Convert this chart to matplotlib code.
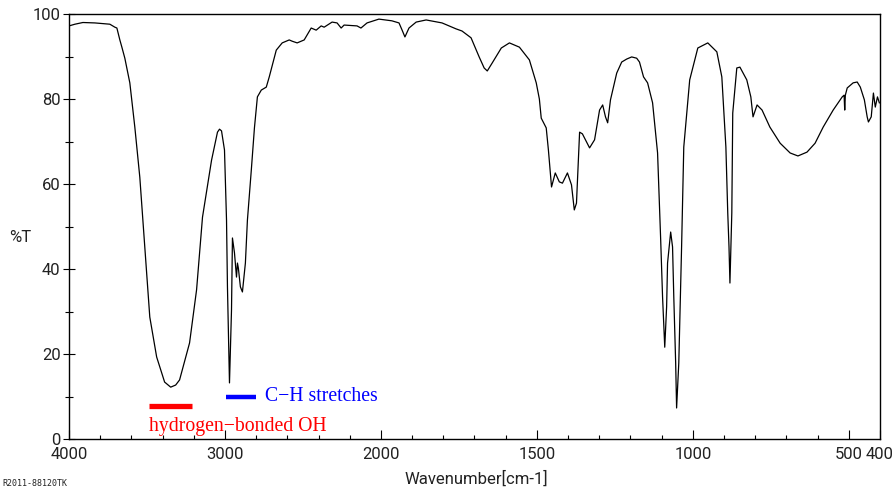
import numpy as np
import matplotlib
matplotlib.use("Agg")
import matplotlib.pyplot as plt
from matplotlib.scale import FuncScale
from matplotlib.ticker import FixedLocator

# --- spectrum data (wavenumber cm-1, %T) ---
wavenumber = [
    4000, 3962, 3911, 3834, 3738, 3706, 3693, 3674, 3661, 3642, 3610, 3578,
    3546, 3514, 3482, 3438, 3387, 3348, 3316, 3291, 3227, 3182, 3144, 3086,
    3048, 3035, 3022, 3003, 2990, 2984, 2971, 2958, 2952, 2939, 2926, 2920,
    2914, 2901, 2888, 2869, 2856, 2831, 2811, 2792, 2767, 2735, 2716, 2671,
    2633, 2588, 2569, 2537, 2492, 2447, 2415, 2383, 2364, 2313, 2281, 2255,
    2236, 2153, 2128, 2089, 2013,
    1965, 1942, 1932, 1923, 1910, 1887, 1855, 1804, 1759, 1740, 1711, 1685,
    1669, 1659, 1643, 1614, 1588, 1556, 1524, 1502, 1492, 1486, 1470, 1463,
    1453, 1441, 1428, 1418, 1402, 1389, 1380, 1373, 1363, 1354, 1331, 1315,
    1299, 1289, 1280, 1273, 1264, 1244, 1228, 1212, 1196, 1180, 1171, 1158,
    1145, 1129, 1113, 1103, 1097, 1090, 1084, 1081, 1071, 1065, 1061, 1055,
    1052, 1045, 1036, 1029, 1010, 984, 952, 923, 907, 894, 888, 884, 881,
    875, 872, 859, 849, 827, 814, 807, 794, 778, 753, 720, 688, 663, 634,
    608, 582, 550, 521, 515, 513, 511, 505, 486, 473, 463, 450, 441, 437,
    428, 421, 415, 408, 402,
]
transmittance = [
    97.2, 97.6, 98.0, 97.9, 97.6, 96.9, 96.7, 93.9, 92.2, 89.6, 83.8, 73.4,
    61.6, 45.2, 28.7, 19.3, 13.4, 12.2, 12.7, 13.9, 22.6, 35.1, 52.2, 65.6,
    72.2, 72.9, 72.5, 68.0, 51.5, 35.8, 13.2, 30.4, 47.3, 43.8, 38.1, 41.4,
    40.2, 35.8, 34.6, 41.4, 51.5, 63.3, 73.2, 80.5, 82.1, 82.8, 85.2, 91.5,
    93.2, 93.9, 93.6, 93.2, 93.9, 96.7, 96.2, 97.2, 96.9, 98.1, 97.9, 96.7,
    97.4, 97.2, 96.7, 97.9, 98.8,
    98.4, 97.9, 96.2, 94.6, 96.7, 98.1, 98.6, 97.9, 96.5, 96.0, 94.4, 89.9,
    87.3, 86.6, 88.5, 92.0, 93.2, 92.2, 89.2, 83.8, 80.0, 75.5, 73.2, 68.0,
    59.3, 62.6, 60.5, 60.2, 62.6, 59.8, 53.9, 55.5, 72.2, 71.8, 68.5, 70.4,
    77.4, 78.6, 75.8, 74.4, 79.8, 86.1, 88.7, 89.4, 89.9, 89.6, 88.7, 85.2,
    83.8, 79.1, 67.3, 46.8, 33.4, 21.6, 31.1, 41.4, 48.7, 45.2, 33.4, 17.9,
    7.3, 17.9, 45.2, 68.7, 84.5, 92.0, 93.2, 91.1, 85.2, 68.7, 53.2, 45.2, 36.7,
    53.2, 76.7, 87.3, 87.5, 84.5, 80.5, 75.8, 78.6, 77.4, 73.4, 69.6, 67.3, 66.6, 67.5,
    69.6, 73.4, 77.4, 80.5, 80.9, 77.4, 80.9, 82.6, 83.8, 84.0, 82.8, 79.8, 75.8, 74.6,
    75.8, 81.4, 78.1, 80.5, 79.1,
]

major_x = [4000, 3000, 2000, 1500, 1000, 500, 400]
major_x_labels = ["4000", "3000", "2000", "1500", "1000", "500", "400"]
minor_x = [3800, 3600, 3400, 3200, 2800, 2600, 2400, 2200,
           1900, 1800, 1700, 1600, 1400, 1300, 1200, 1100,
           900, 800, 700, 600]
major_y = [0, 20, 40, 60, 80, 100]
minor_y = [10, 30, 50, 70, 90]

# band markers: x from, x to, %T
oh_band = (3490, 3210, 7.8)
ch_band = (2995, 2800, 9.9)


# spectrometer style axis: below 2000 cm-1 the scale is doubled
def fwd(w):
    w = np.asarray(w, dtype=float)
    return np.where(w >= 2000, w, 2 * w - 2000)


def inv(u):
    u = np.asarray(u, dtype=float)
    return np.where(u >= 2000, u, (u + 2000) / 2)


tick_font = ["Roboto", "DejaVu Sans"]
serif_font = ["Liberation Serif", "DejaVu Serif"]

fig = plt.figure(figsize=(8.95, 4.88), dpi=100)
ax = fig.add_axes([0.0771, 0.1004, 0.9061, 0.8709])
ax.set_xscale(FuncScale(ax.xaxis, (fwd, inv)))

ax.plot(wavenumber, transmittance, color="black", lw=0.9)

ax.set_xlim(4000, 400)
ax.set_ylim(0, 100)

ax.set_xticks(major_x, major_x_labels)
ax.xaxis.set_minor_locator(FixedLocator(minor_x))
ax.set_yticks(major_y)
ax.yaxis.set_minor_locator(FixedLocator(minor_y))

ax.tick_params(axis="x", which="major", direction="in", length=6.5, width=0.8, pad=6)
ax.tick_params(axis="x", which="minor", direction="in", length=3, width=0.8)
ax.tick_params(axis="y", which="major", direction="inout", length=8, width=0.8, pad=2)
ax.tick_params(axis="y", which="minor", direction="inout", length=5.5, width=0.8)
for lab in ax.get_xticklabels() + ax.get_yticklabels():
    lab.set_family(tick_font)
    lab.set_fontsize(12)
    lab.set_color("#222222")

for sp in ax.spines.values():
    sp.set_linewidth(1.0)

# band annotations
ax.plot(oh_band[:2], [oh_band[2]] * 2, color="red", lw=3.8, solid_capstyle="butt")
ax.text(oh_band[0], 3.0, "hydrogen\u2212bonded OH", color="red",
        family=serif_font, fontsize=14.2, va="center", ha="left")
ax.plot(ch_band[:2], [ch_band[2]] * 2, color="blue", lw=3.2, solid_capstyle="butt")
ax.text(2745, 9.9, "C\u2212H stretches", color="blue",
        family=serif_font, fontsize=14.2, va="center", ha="left")

fig.text(20 / 895, 1 - 238 / 488, "%T", family=tick_font, fontsize=12,
         ha="center", va="center", color="#222222")
fig.text(476 / 895, 1 - 479 / 488, "Wavenumber[cm-1]", family=tick_font, fontsize=12,
         ha="center", va="center", color="#222222")
fig.text(2 / 895, 1 - 483 / 488, "R2011-88120TK", family="DejaVu Sans Mono",
         fontsize=6, ha="left", va="center", color="#222222")

fig.savefig("out.png", dpi=100)
